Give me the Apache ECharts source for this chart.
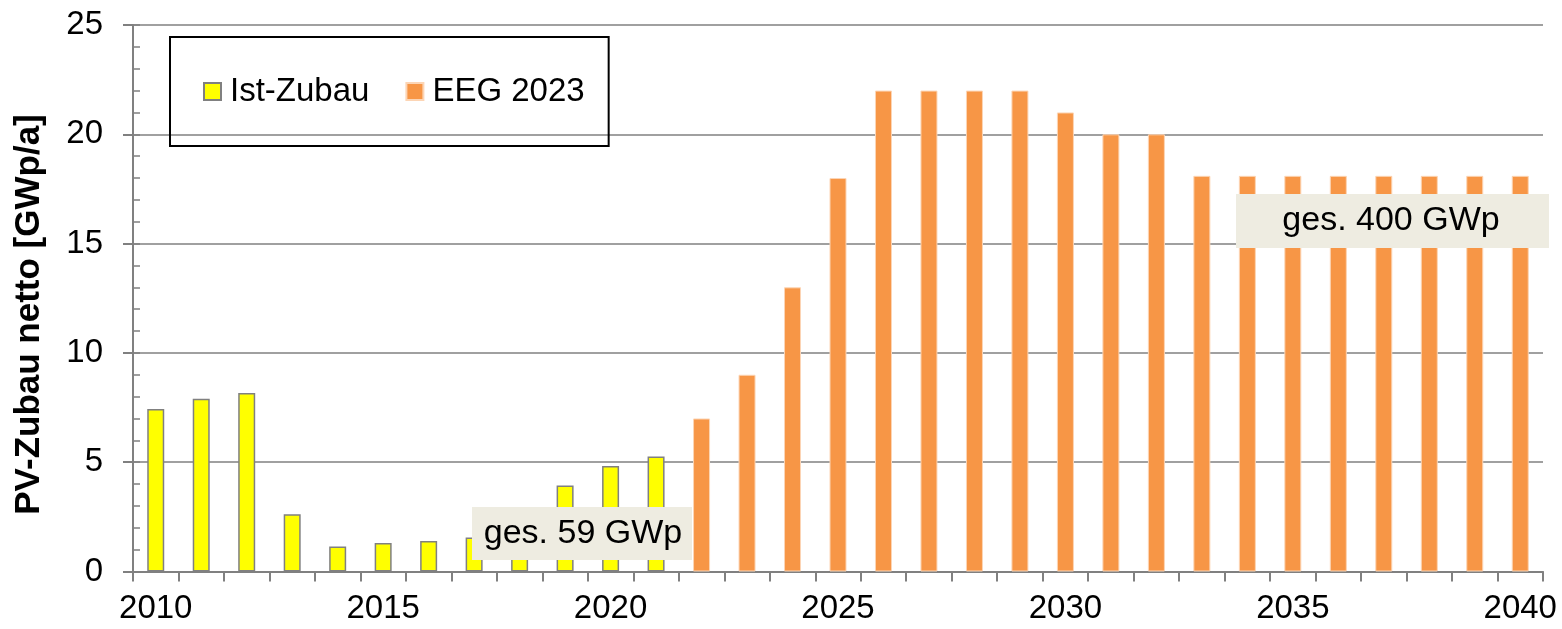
<!DOCTYPE html>
<html>
<head>
<meta charset="utf-8">
<script src="https://cdn.jsdelivr.net/npm/echarts@6/dist/echarts.min.js"></script>
<style>
  html, body { margin: 0; padding: 0; background: #fff; }
  #chart { width: 1562px; height: 629px; }
</style>
</head>
<body>
<div id="chart"></div>
<script>
// Jahre 2010..2040
const years = []
for (let y = 2010; y <= 2040; y++) years.push(String(y))

// Ist-Zubau 2010-2021, GWp/a
const istZubau = [7.43, 7.9, 8.16, 2.62, 1.14, 1.3, 1.4, 1.55, 2.9, 3.93, 4.83, 5.26]
// EEG 2023 Zielpfad 2022-2040
const eeg2023 = [7, 9, 13, 18, 22, 22, 22, 22, 21, 20, 20, 18.1, 18.1, 18.1, 18.1, 18.1, 18.1, 18.1, 18.1]

const istData = years.map((y, i) => (i < istZubau.length ? istZubau[i] : '-'))
const eegData = years.map((y, i) => (i >= istZubau.length ? eeg2023[i - istZubau.length] : '-'))

const grey = '#808080'
const font = 'Liberation Sans, Arial, sans-serif'

const myChart = echarts.init(document.getElementById('chart'))

const option = {
  animation: false,
  backgroundColor: '#fff',
  textStyle: { fontFamily: font, color: '#000' },
  grid: { left: 133, right: 19, top: 25, bottom: 57.5 },
  legend: {
    left: 170,
    top: 37,
    orient: 'horizontal',
    borderColor: '#000',
    borderWidth: 2,
    padding: [38, 24, 38, 33],
    itemWidth: 17,
    itemHeight: 17,
    itemGap: 36,
    icon: 'rect',
    textStyle: { fontSize: 33, color: '#000', fontFamily: font, padding: [2, 0, 0, 4] },
    data: ['Ist-Zubau', 'EEG 2023']
  },
  xAxis: {
    type: 'category',
    data: years,
    boundaryGap: true,
    axisLine: { lineStyle: { color: grey, width: 2 } },
    axisTick: { show: true, interval: 0, length: 10, lineStyle: { color: grey, width: 2 } },
    axisLabel: { interval: 4, fontSize: 33, color: '#000', margin: 21 },
    splitLine: { show: false }
  },
  yAxis: [
    {
      type: 'value',
      min: 0,
      max: 25,
      interval: 5,
      axisLine: { show: true, lineStyle: { color: grey, width: 2 } },
      axisTick: { show: true, length: 10, lineStyle: { color: grey, width: 2 } },
      axisLabel: { fontSize: 33, color: '#000', margin: 30 },
      splitLine: { show: true, lineStyle: { color: grey, width: 1.5 } }
    },
    {
      // nur die kleinen Striche nach innen
      type: 'value',
      position: 'left',
      min: 0,
      max: 25,
      interval: 1,
      axisLine: { show: false },
      axisTick: { show: true, inside: true, length: 7, lineStyle: { color: grey, width: 1.5 } },
      axisLabel: { show: false },
      splitLine: { show: false }
    }
  ],
  series: [
    {
      name: 'Ist-Zubau',
      type: 'bar',
      barWidth: 17,
      barGap: '-100%',
      itemStyle: { color: '#FFFF00', borderColor: grey, borderWidth: 1.5 },
      data: istData
    },
    {
      name: 'EEG 2023',
      type: 'bar',
      barWidth: 17,
      barGap: '-100%',
      itemStyle: { color: '#F79646', borderColor: '#FCD5B5', borderWidth: 1 },
      data: eegData
    }
  ],
  graphic: [
    {
      // Achsentitel
      type: 'text',
      left: 12,
      top: 'middle',
      z: 100,
      style: { text: 'PV-Zubau netto [GWp/a]', font: 'bold 35px ' + font, fill: '#000' },
      rotation: Math.PI / 2,
      x: 12,
      y: 513
    },
    {
      type: 'group',
      left: 472,
      top: 507,
      z: 100,
      children: [
        { type: 'rect', shape: { x: 0, y: 0, width: 220, height: 53 }, style: { fill: '#EEECE1' }, z: 100 },
        {
          type: 'text', x: 111, y: 27, z: 101,
          style: { text: 'ges. 59 GWp', font: '34px ' + font, fill: '#000', align: 'center', verticalAlign: 'middle' }
        }
      ]
    },
    {
      type: 'group',
      left: 1236,
      top: 194,
      z: 100,
      children: [
        { type: 'rect', shape: { x: 0, y: 0, width: 313, height: 54 }, style: { fill: '#EEECE1' }, z: 100 },
        {
          type: 'text', x: 155, y: 27, z: 101,
          style: { text: 'ges. 400 GWp', font: '34px ' + font, fill: '#000', align: 'center', verticalAlign: 'middle' }
        }
      ]
    }
  ]
}

myChart.setOption(option)
</script>
</body>
</html>
